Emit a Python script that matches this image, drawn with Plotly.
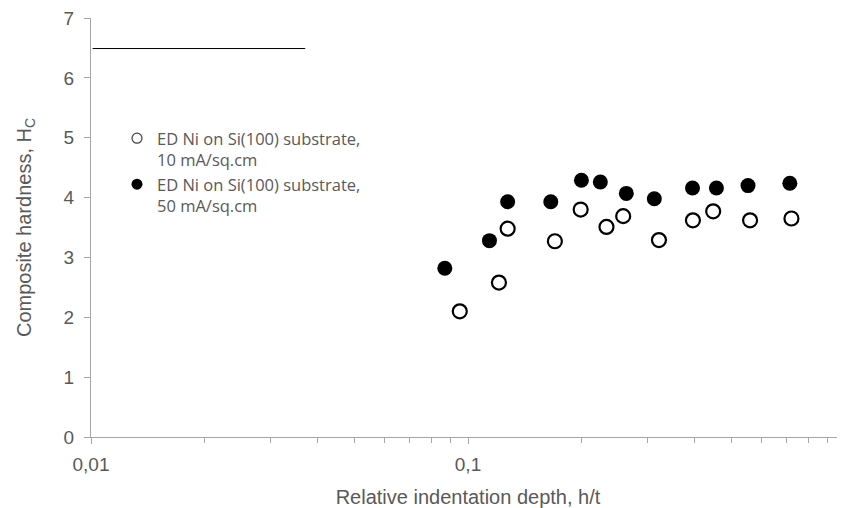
import plotly.graph_objects as go
import numpy as np

# Data
x_10 = [0.0951, 0.1208, 0.1274, 0.170, 0.199, 0.233, 0.258, 0.321, 0.395, 0.447, 0.560, 0.721]
h_10 = [2.10, 2.58, 3.48, 3.27, 3.80, 3.51, 3.69, 3.29, 3.62, 3.77, 3.62, 3.65]
x_50 = [0.0868, 0.114, 0.1274, 0.1658, 0.1999, 0.2244, 0.263, 0.312, 0.394, 0.456, 0.553, 0.714]
h_50 = [2.82, 3.28, 3.93, 3.93, 4.29, 4.26, 4.07, 3.98, 4.16, 4.16, 4.20, 4.24]
ref_line_x = [0.0101, 0.037]
ref_line_y = [6.49, 6.49]

name_10 = "ED Ni on Si(100) substrate,<br>10 mA/sq.cm"
name_50 = "ED Ni on Si(100) substrate,<br>50 mA/sq.cm"
major_vals = [0.01, 0.1, 1]
major_text = ["0,01", "0,1", "1"]
minor_vals = [m * d for d in (0.01, 0.1) for m in range(2, 10)]

fig = go.Figure()
fig.add_trace(go.Scatter(x=ref_line_x, y=ref_line_y, mode="lines",
                         line=dict(color="black", width=1), showlegend=False,
                         hoverinfo="skip"))
fig.add_trace(go.Scatter(x=x_10, y=h_10, mode="markers", name=name_10, showlegend=False,
                         marker=dict(symbol="circle-open", size=14, color="black",
                                     line=dict(width=2.2, color="black"))))
fig.add_trace(go.Scatter(x=x_50, y=h_50, mode="markers", name=name_50, showlegend=False,
                         marker=dict(symbol="circle", size=15, color="black")))
# legend entries (smaller symbols as in the reference)
fig.add_trace(go.Scatter(x=[None], y=[None], mode="markers", name=name_10,
                         marker=dict(symbol="circle-open", size=10, color="#404040",
                                     line=dict(width=1.2, color="#404040"))))
fig.add_trace(go.Scatter(x=[None], y=[None], mode="markers", name=name_50,
                         marker=dict(symbol="circle", size=11, color="black")))

axis_gray = "#a6a6a6"
text_gray = "#595959"
# page has an 8px body margin; compensate so the plot lands where the reference has it
W, H = 837, 500
L, R, T, B = 83, 0, 10, 71
PW = W - L - R
PH = H - T - B
fig.update_layout(
    width=W, height=H,
    margin=dict(l=L, r=R, t=T, b=B),
    paper_bgcolor="white", plot_bgcolor="white",
    separators=", ",
    font=dict(family="Liberation Sans, Arial", color=text_gray, size=18),
    legend=dict(x=26 / PW, y=(PH + T - 113) / PH,
                yanchor="top", xanchor="left", valign="top",
                font=dict(family="Open Sans", size=16.5, color=text_gray),
                itemwidth=30, tracegroupgap=0, bgcolor="rgba(0,0,0,0)"),
    xaxis=dict(type="log", range=[np.log10(0.01), np.log10(1.0)],
               automargin=False, ticklabeloverflow="allow",
               tickmode="array", tickvals=major_vals, ticktext=major_text,
               ticks="outside", ticklen=6, tickcolor=axis_gray,
               ticklabelstandoff=4,
               showline=True, linecolor=axis_gray, linewidth=1.3,
               showgrid=False, zeroline=False,
               minor=dict(tickmode="array", tickvals=minor_vals, ticks="outside",
                          ticklen=5, tickcolor=axis_gray, showgrid=False),
               title=dict(text="Relative indentation depth, h/t",
                          font=dict(size=20, color=text_gray), standoff=16),
               tickfont=dict(size=19, color=text_gray)),
    yaxis=dict(range=[0, 7], dtick=1, tick0=0, automargin=False,
               ticklabeloverflow="allow",
               ticks="outside", ticklen=6, tickcolor=axis_gray,
               ticklabelstandoff=6,
               showline=True, linecolor=axis_gray, linewidth=1.3,
               showgrid=False, zeroline=False,
               title=dict(text="Composite hardness, H<sub>C</sub>",
                          font=dict(size=20, color=text_gray), standoff=26),
               tickfont=dict(size=19, color=text_gray)),
)
fig.write_html("out.html")
